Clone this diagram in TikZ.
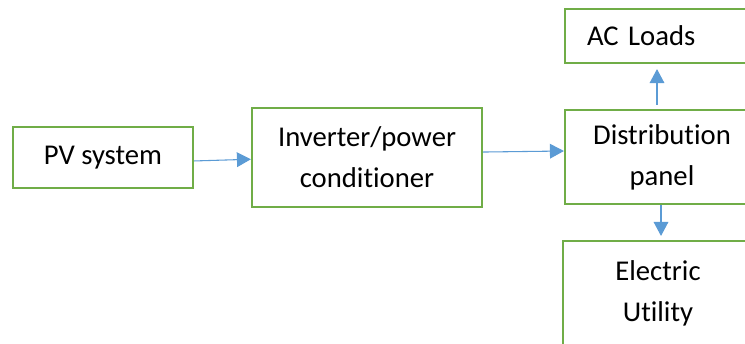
\documentclass[tikz,border=0pt]{standalone}
\usepackage{fontspec}
\setmainfont{Carlito}[Ligatures={NoCommon}]
\usetikzlibrary{arrows.meta}
\definecolor{boxgreen}{HTML}{70AD47}
\definecolor{arrblue}{HTML}{5B9BD5}
\begin{document}
\begin{tikzpicture}[x=0.75pt,y=-0.75pt,
  blk/.style={draw=boxgreen,line width=1.6pt,fill=white,inner sep=0pt,
    font=\fontsize{21.5}{30.75}\selectfont,align=center},
  arr/.style={draw=arrblue,line width=0.8pt,
    -{Triangle[length=10.5pt,width=11pt]},color=arrblue}]
\useasboundingbox (0,0) rectangle (745,343);
\clip (0,0) rectangle (745,343);
\fill[white] (0,0) rectangle (745,343);
\node[blk,minimum width=135pt,minimum height=45.75pt] (pv) at (103,157.5) {PV system};
\node[blk,minimum width=172.5pt,minimum height=74.25pt] (inv) at (367,157.5) {Inverter/power\\conditioner};
\node[blk,minimum width=142.5pt,minimum height=40.5pt,text width=109.5pt,align=left,inner xsep=16.5pt] (ac) at (660,36) {AC Loads};
\node[blk,minimum width=145.5pt,minimum height=70.5pt] (dist) at (662,157) {Distribution\\panel};
\node[blk,minimum width=142.5pt,minimum height=78pt] (util) at (658,293) {Electric\\Utility};
\draw[arr] ([yshift=-2.6pt]pv.east) -- ([yshift=-1.3pt]inv.west);
\draw[arr] ([yshift=4.1pt]inv.east) -- ([yshift=4.5pt]dist.west);
\draw[arr] ([xshift=-3.75pt,yshift=3pt]dist.north) -- ([xshift=-2.25pt,yshift=-3.75pt]ac.south);
\draw[arr] ([xshift=-0.75pt]dist.south) -- ([xshift=2.25pt,yshift=3pt]util.north);
\end{tikzpicture}
\end{document}
